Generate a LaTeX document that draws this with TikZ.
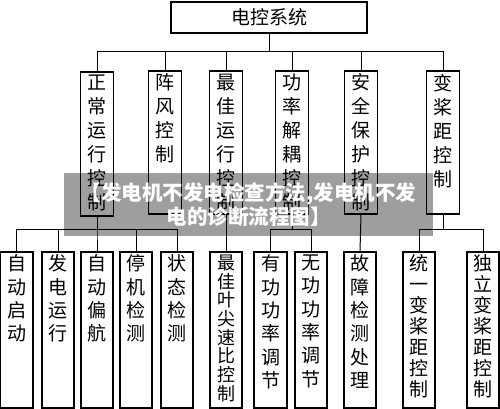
\documentclass[tikz,border=0pt]{standalone}
\usepackage{fontspec}
\newfontfamily\cjk{Noto Sans CJK SC}
\lineskiplimit=-20pt
\newcommand{\colbox}[2]{\parbox[c][#1pt][t]{26pt}{\centering\vspace*{3pt}#2}}

\begin{document}
\begin{tikzpicture}[x=1pt, y=-1pt,
		sys/.style={draw, line width=1.8pt, minimum width=196pt, minimum height=31pt, inner sep=0pt, font=\cjk\fontsize{19}{24}\selectfont},
		sub/.style={draw, line width=1.8pt, anchor=north, minimum width=33pt, inner sep=0pt, font=\cjk\fontsize{19}{24}\selectfont},
		leaf/.style={draw, line width=1.8pt, anchor=north, minimum width=32.5pt, inner sep=0pt, font=\cjk\fontsize{19}{23.3}\selectfont},
		link/.style={line width=1pt},
		banner/.style={fill=black, fill opacity=0.38, text opacity=1, text=white, minimum width=369pt, minimum height=63pt, inner sep=0pt, align=center, font=\cjk\bfseries\fontsize{20.5}{24}\selectfont}]
		\useasboundingbox (0, 0) rectangle (500, 409);

		\node[sys] (sys) at (269, 17.5) {电控系统};

		\node[sub] (normal) at (97, 71) {\colbox{144}{正\\常\\运\\行\\控\\制}};
		\node[sub] (gust) at (165, 70) {\colbox{143}{阵\\风\\控\\制}};
		\node[sub] (optimal) at (226, 70) {\colbox{143}{最\\佳\\运\\行\\控\\制}};
		\node[sub] (decouple) at (292, 70) {\colbox{143}{功\\率\\解\\耦\\控\\制}};
		\node[sub] (safety) at (361, 70) {\colbox{143}{安\\全\\保\\护\\控\\制}};
		\node[sub] (pitch) at (443, 70) {\colbox{143}{变\\桨\\距\\控\\制}};

		\node[leaf] (start) at (16.7, 251) {\colbox{156}{自\\动\\启\\动}};
		\node[leaf] (gen) at (58, 251) {\colbox{156}{发\\电\\运\\行}};
		\node[leaf] (yaw) at (97, 251) {\colbox{156}{自\\动\\偏\\航}};
		\node[leaf] (stopchk) at (136, 251) {\colbox{156}{停\\机\\检\\测}};
		\node[leaf] (statechk) at (177, 251) {\colbox{156}{状\\态\\检\\测}};
		\node[leaf, font=\cjk\fontsize{18}{18.7}\selectfont] (tsr) at (226, 251) {\colbox{156}{最\\佳\\叶\\尖\\速\\比\\控\\制}};
		\node[leaf] (active) at (270.5, 251) {\colbox{156}{有\\功\\功\\率\\调\\节}};
		\node[leaf] (reactive) at (311, 251) {\colbox{156}{无\\功\\功\\率\\调\\节}};
		\node[leaf] (fault) at (360, 251) {\colbox{156}{故\\障\\检\\测\\处\\理}};
		\node[leaf, font=\cjk\fontsize{19}{21}\selectfont] (unified) at (419, 251) {\colbox{156}{统\\一\\变\\桨\\距\\控\\制}};
		\node[leaf, font=\cjk\fontsize{19}{21}\selectfont] (indep) at (483, 251) {\colbox{156}{独\\立\\变\\桨\\距\\控\\制}};

		\foreach \c in {normal, gust, optimal, decouple, safety, pitch}
			\draw[link] (sys.south) -- ++(0, 18) -| (\c.north);
		\foreach \l in {start, gen, yaw, stopchk, statechk}
			\draw[link] (normal.south) -- ++(0, 13) -| (\l.north);
		\draw[link] (optimal.south) -- (tsr.north);
		\foreach \l in {active, reactive}
			\draw[link] (decouple.south) -- ++(0, 15) -| (\l.north);
		\draw[link] (safety.south) -- (fault.north);
		\foreach \l in {unified, indep}
			\draw[link] (pitch.south) -- ++(0, 15) -| (\l.north);

		\node[banner] (banner) at (248.5, 204.5) {【发电机不发电检查方法,发电机不发\\电的诊断流程图】};
	\end{tikzpicture}
\end{document}
